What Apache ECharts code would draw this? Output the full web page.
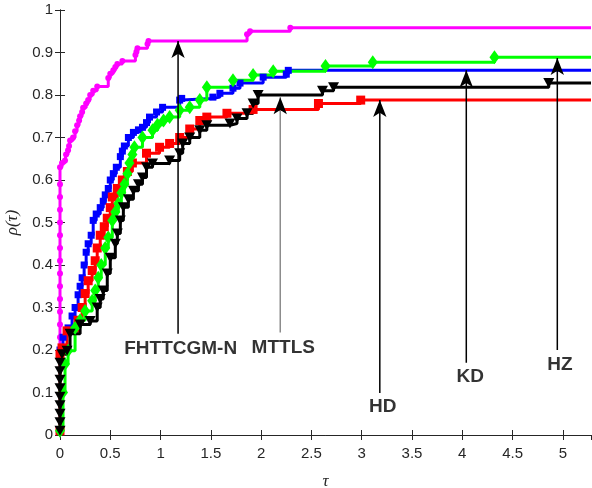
<!DOCTYPE html>
<html lang="en">
<head>
    <meta charset="UTF-8">
    <title>performance profile</title>
    <script src="https://cdn.jsdelivr.net/npm/echarts@6/dist/echarts.min.js"></script>
</head>
<body style="margin:0">
    <div id="main" style="width: 592px;height:488px;"></div>
</body>
<script>
    // x axis range and ticks
    var xMax = 5.28;
    var xTickStep = 0.5;
    var yTickStep = 0.1;

    // FHTTCGM-N (magenta)
    var tauFH = [0, 0, 0, 0, 0, 0, 0, 0, 0, 0, 0, 0, 0, 0, 0, 0.02, 0.05, 0.06, 0.08, 0.09, 0.10, 0.13, 0.15, 0.17, 0.19, 0.20, 0.22, 0.23, 0.26, 0.28, 0.30, 0.33, 0.37, 0.48, 0.50, 0.53, 0.55, 0.57, 0.62, 0.75, 0.76, 0.77, 0.87, 0.88, 1.86, 1.89, 2.29];
    var rhoFH = [0.20, 0.23, 0.26, 0.29, 0.32, 0.35, 0.38, 0.41, 0.44, 0.47, 0.50, 0.53, 0.56, 0.59, 0.63, 0.64, 0.646, 0.66, 0.67, 0.68, 0.693, 0.70, 0.715, 0.729, 0.74, 0.75, 0.76, 0.77, 0.78, 0.788, 0.80, 0.81, 0.82, 0.84, 0.85, 0.858, 0.866, 0.873, 0.88, 0.894, 0.902, 0.91, 0.92, 0.927, 0.943, 0.95, 0.958];

    // KD (blue)
    var tauKD = [0, 0.03, 0.07, 0.08, 0.12, 0.15, 0.18, 0.20, 0.22, 0.24, 0.26, 0.28, 0.31, 0.33, 0.36, 0.40, 0.43, 0.45, 0.48, 0.50, 0.53, 0.56, 0.60, 0.62, 0.64, 0.68, 0.73, 0.78, 0.82, 0.86, 0.89, 0.96, 1.02, 1.19, 1.21, 1.52, 1.59, 1.72, 1.79, 2.02, 2.25, 2.27];
    var rhoKD = [0.20, 0.23, 0.245, 0.252, 0.28, 0.30, 0.33, 0.35, 0.37, 0.40, 0.43, 0.45, 0.47, 0.505, 0.52, 0.535, 0.55, 0.565, 0.58, 0.60, 0.615, 0.63, 0.655, 0.668, 0.68, 0.70, 0.712, 0.718, 0.724, 0.735, 0.748, 0.76, 0.771, 0.788, 0.792, 0.795, 0.804, 0.816, 0.828, 0.842, 0.849, 0.858];

    // HD (red)
    var tauHD = [0, 0, 0.02, 0.07, 0.18, 0.22, 0.25, 0.28, 0.32, 0.35, 0.37, 0.40, 0.44, 0.47, 0.50, 0.52, 0.57, 0.62, 0.67, 0.72, 0.86, 0.99, 1.09, 1.19, 1.29, 1.39, 1.46, 1.66, 1.92, 2.57, 2.99];
    var rhoHD = [0.01, 0.19, 0.205, 0.245, 0.27, 0.30, 0.333, 0.363, 0.387, 0.41, 0.44, 0.47, 0.49, 0.51, 0.535, 0.56, 0.58, 0.60, 0.62, 0.64, 0.663, 0.677, 0.686, 0.70, 0.72, 0.74, 0.748, 0.757, 0.766, 0.78, 0.788];

    // HZ (green)
    var tauHZ = [0, 0.03, 0.05, 0.08, 0.15, 0.20, 0.25, 0.32, 0.35, 0.38, 0.41, 0.45, 0.48, 0.52, 0.55, 0.58, 0.61, 0.64, 0.67, 0.69, 0.72, 0.74, 0.82, 0.92, 0.97, 1.03, 1.09, 1.19, 1.29, 1.39, 1.46, 1.72, 1.92, 2.12, 2.64, 3.11, 4.32];
    var rhoHZ = [0.01, 0.10, 0.167, 0.198, 0.252, 0.27, 0.292, 0.316, 0.34, 0.37, 0.40, 0.44, 0.465, 0.505, 0.525, 0.545, 0.57, 0.59, 0.615, 0.64, 0.66, 0.677, 0.70, 0.717, 0.73, 0.74, 0.748, 0.764, 0.771, 0.788, 0.818, 0.835, 0.847, 0.856, 0.868, 0.877, 0.889];

    // MTTLS (black)
    var tauMT = [0, 0, 0, 0, 0, 0, 0, 0, 0, 0.02, 0.07, 0.10, 0.20, 0.30, 0.37, 0.40, 0.43, 0.47, 0.50, 0.55, 0.57, 0.60, 0.63, 0.68, 0.73, 0.78, 0.82, 0.86, 0.92, 1.09, 1.19, 1.22, 1.29, 1.39, 1.46, 1.69, 1.76, 1.86, 1.92, 1.97, 2.61, 2.72, 4.86];
    var rhoMT = [0.01, 0.03, 0.05, 0.07, 0.09, 0.11, 0.13, 0.15, 0.17, 0.19, 0.198, 0.238, 0.26, 0.268, 0.30, 0.32, 0.34, 0.38, 0.417, 0.45, 0.474, 0.505, 0.536, 0.555, 0.575, 0.59, 0.606, 0.63, 0.639, 0.646, 0.663, 0.686, 0.70, 0.717, 0.729, 0.733, 0.745, 0.757, 0.78, 0.80, 0.81, 0.818, 0.828];

    // annotations: arrow position, arrow bottom/top, label position
    var annNames = ['FHTTCGM-N', 'MTTLS', 'HD', 'KD', 'HZ'];
    var annTau = [1.174, 2.19, 3.18, 4.04, 4.945];
    var annBottom = [0.238, 0.241, 0.099, 0.17, 0.20];
    var annTop = [0.927, 0.795, 0.788, 0.858, 0.887];
    var labelTau = [1.20, 2.22, 3.21, 4.08, 4.97];
    var labelRho = [0.203, 0.205, 0.066, 0.137, 0.165];
    var annColors = ['#000', '#8c8c8c', '#000', '#000', '#000'];

    function stairData(taus, rhos) {
        var d = taus.map(function (t, i) { return [t, rhos[i]]; });
        d.push({ value: [xMax, rhos[rhos.length - 1]], symbol: 'none' });
        return d;
    }

    function profile(name, color, taus, rhos, symbol, size, rotate) {
        return {
            name: name,
            type: 'line',
            step: 'end',
            data: stairData(taus, rhos),
            symbol: symbol,
            symbolSize: size,
            symbolRotate: rotate || 0,
            showAllSymbol: true,
            lineStyle: { color: color, width: 3 },
            itemStyle: { color: color, borderWidth: 0 },
            emphasis: { disabled: true },
            animation: false,
            z: 3
        };
    }

    var myChart = echarts.init(document.getElementById('main'));

    var axisColor = '#262626';
    var series = [
        profile('FHTTCGM-N', '#ff00ff', tauFH, rhoFH, 'circle', 6),
        profile('KD', '#0000ff', tauKD, rhoKD, 'rect', 7),
        profile('HD', '#ff0000', tauHD, rhoHD, 'rect', 9),
        profile('HZ', '#00ff00', tauHZ, rhoHZ, 'diamond', [10, 14]),
        profile('MTTLS', '#000000', tauMT, rhoMT, 'triangle', [11, 10], 180)
    ];

    // arrows
    annTau.forEach(function (t, i) {
        series.push({
            type: 'line',
            data: [
                { value: [t, annBottom[i]], symbol: 'none' },
                { value: [t, annTop[i]], symbol: 'arrow', symbolSize: [10, 17], symbolOffset: [0, 0], itemStyle: { color: '#000' } }
            ],
            lineStyle: { color: annColors[i], width: 1.5 },
            emphasis: { disabled: true },
            animation: false,
            z: 5
        });
    });

    // labels
    series.push({
        type: 'scatter',
        symbolSize: 1,
        itemStyle: { color: 'transparent' },
        data: labelTau.map(function (t, i) { return { value: [t, labelRho[i]], name: annNames[i] }; }),
        label: {
            show: true,
            position: 'inside',
            formatter: '{b}',
            color: '#000',
            fontFamily: 'Liberation Sans',
            fontWeight: 'bold',
            fontSize: 19
        },
        emphasis: { disabled: true },
        animation: false,
        z: 6
    });

    var option = {
        animation: false,
        grid: { left: 60, right: 1, top: 10, bottom: 53, outerBoundsMode: 'none', containLabel: false },
        xAxis: [{
            type: 'value',
            min: 0,
            max: xMax,
            interval: xTickStep,
            name: 'τ',
            nameLocation: 'middle',
            nameGap: 38,
            nameTextStyle: { fontFamily: 'Liberation Serif', fontStyle: 'italic', fontSize: 17, color: axisColor },
            axisLine: { lineStyle: { color: axisColor, width: 1 } },
            axisTick: { inside: true, length: 5, lineStyle: { color: axisColor } },
            axisLabel: { color: axisColor, fontFamily: 'Liberation Sans', fontSize: 15, margin: 11, showMaxLabel: false },
            splitLine: { show: false }
        }, {
            type: 'value',
            position: 'top',
            min: 0,
            max: xMax,
            interval: xTickStep,
            axisLine: { lineStyle: { color: axisColor, width: 1 } },
            axisTick: { inside: true, length: 5, lineStyle: { color: axisColor } },
            axisLabel: { show: false },
            splitLine: { show: false }
        }],
        yAxis: [{
            type: 'value',
            min: 0,
            max: 1,
            interval: yTickStep,
            name: 'ρ(τ)',
            nameLocation: 'middle',
            nameGap: 34,
            nameTextStyle: { fontFamily: 'Liberation Serif', fontStyle: 'italic', fontSize: 17, color: axisColor },
            axisLine: { lineStyle: { color: axisColor, width: 1 } },
            axisTick: { inside: true, length: 5, lineStyle: { color: axisColor } },
            axisLabel: { color: axisColor, fontFamily: 'Liberation Sans', fontSize: 15, margin: 7 },
            splitLine: { show: false }
        }, {
            type: 'value',
            position: 'right',
            min: 0,
            max: 1,
            interval: yTickStep,
            axisLine: { lineStyle: { color: axisColor, width: 1 } },
            axisTick: { inside: true, length: 5, lineStyle: { color: axisColor } },
            axisLabel: { show: false },
            splitLine: { show: false }
        }],
        series: series
    };

    myChart.setOption(option);
</script>
</html>
